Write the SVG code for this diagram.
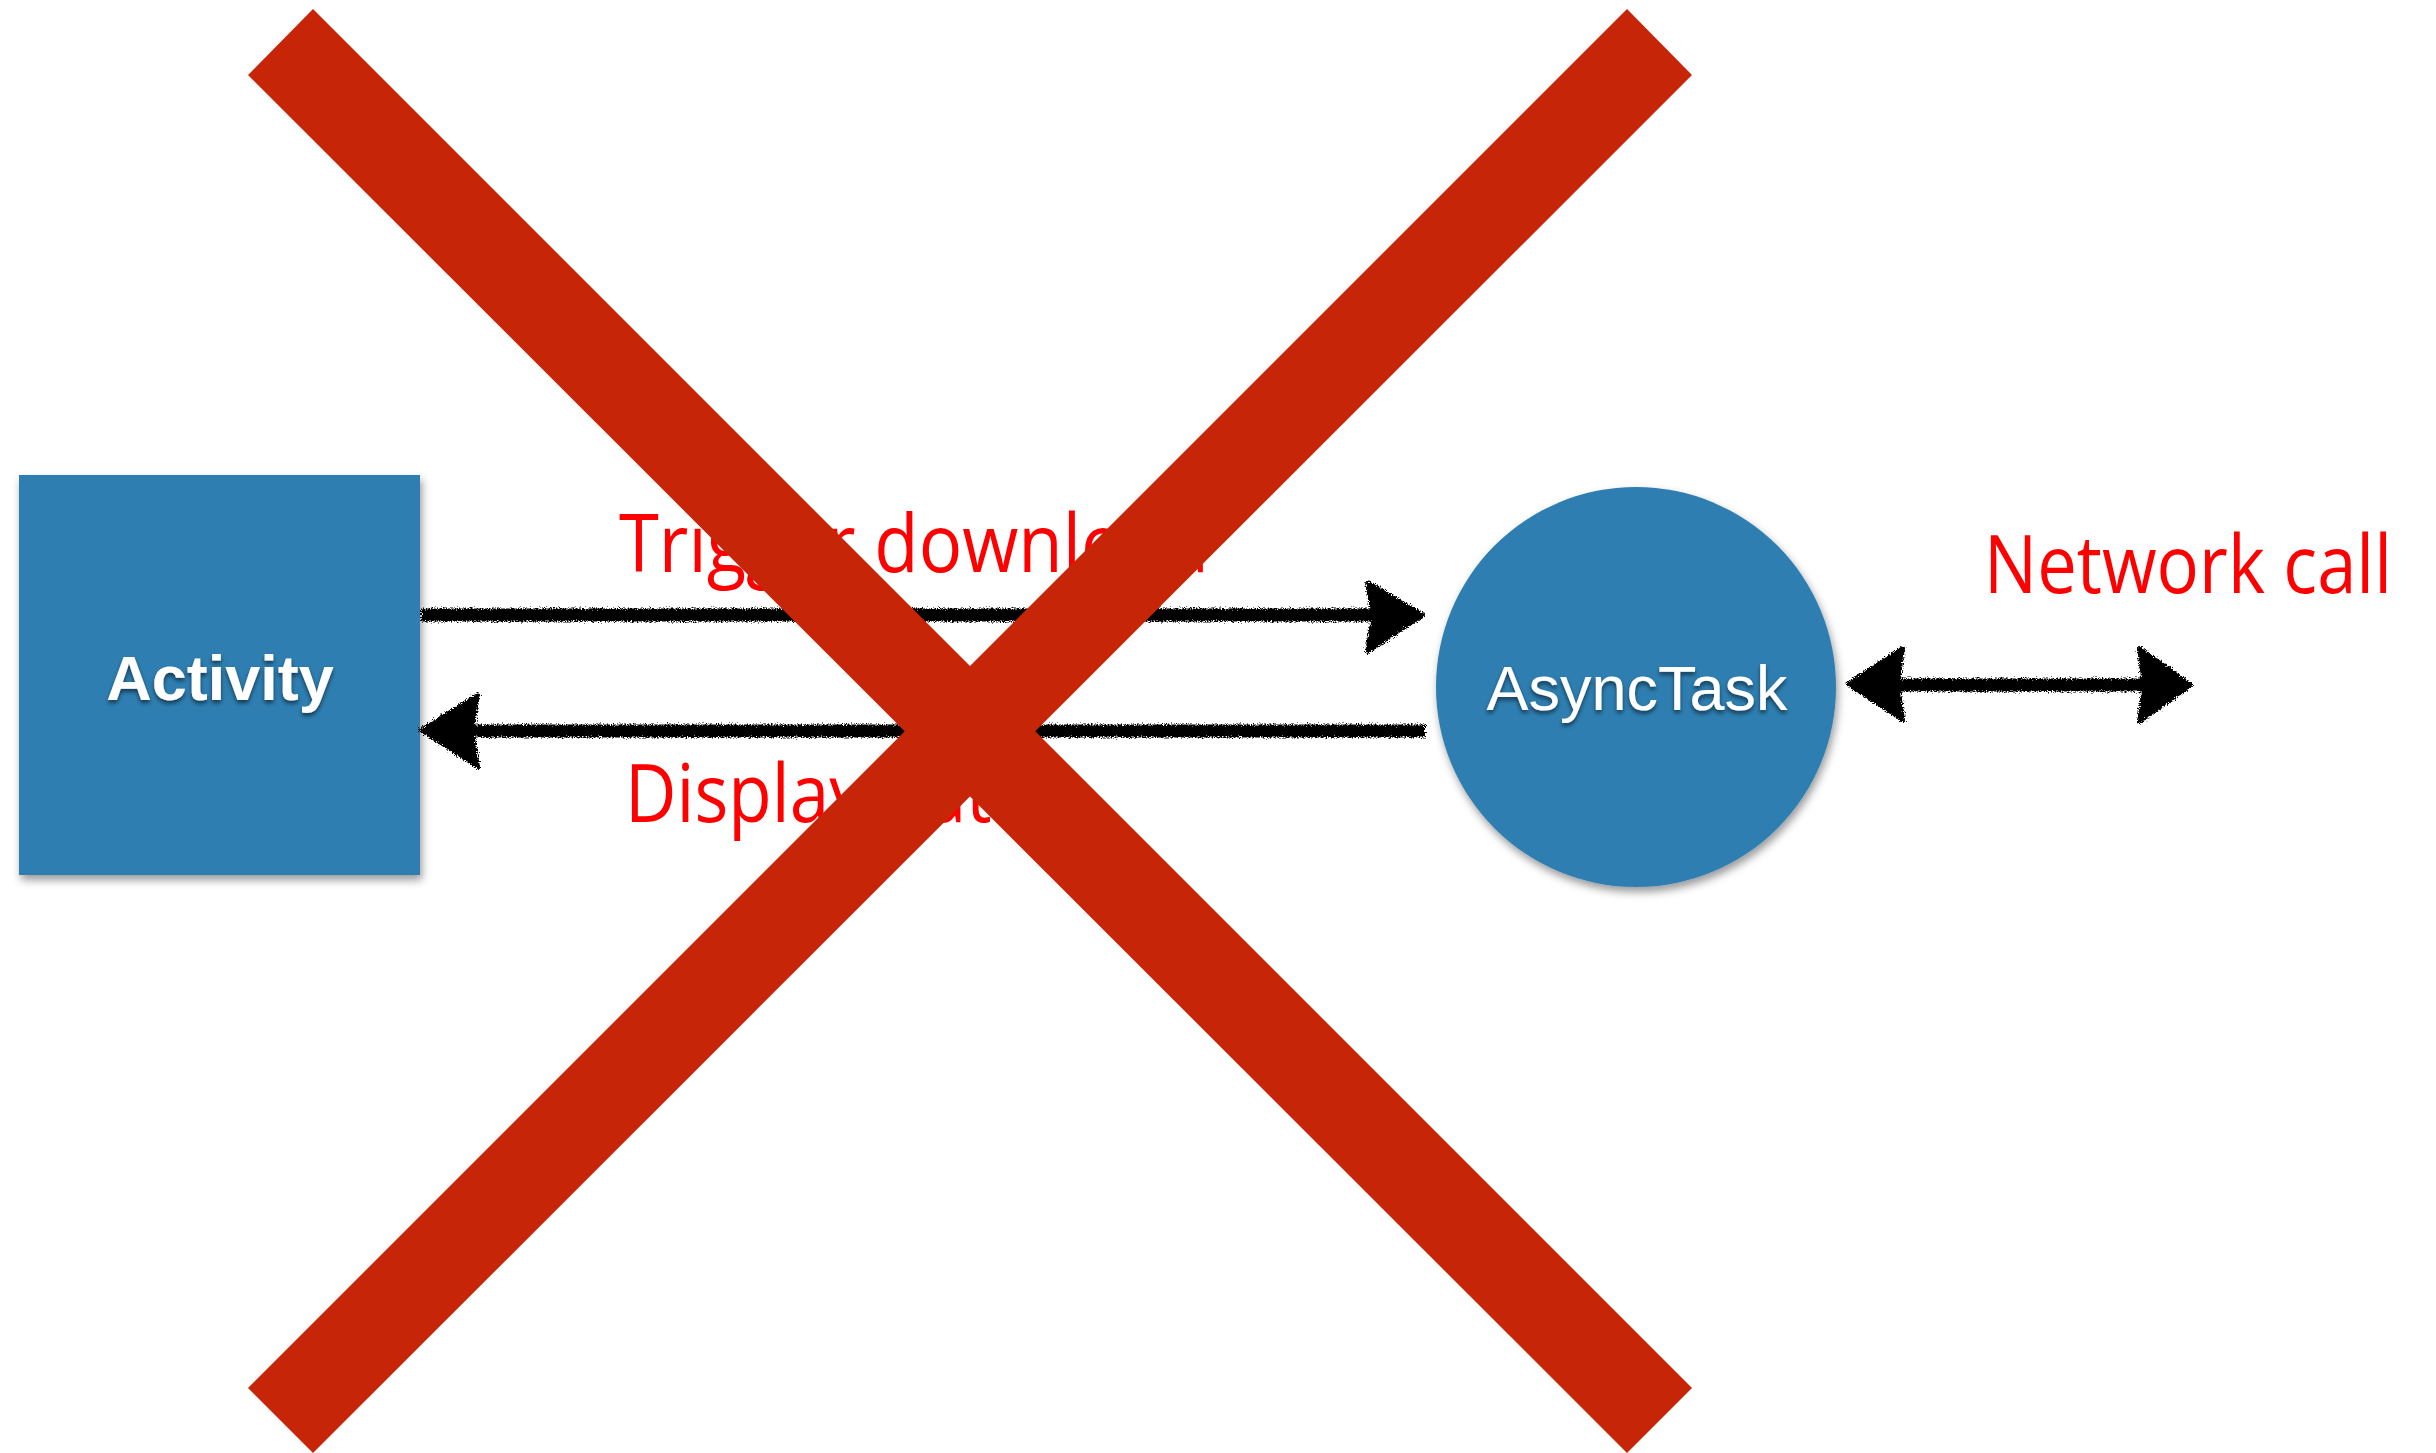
<svg xmlns="http://www.w3.org/2000/svg" width="2436" height="1453" viewBox="0 0 2436 1453">
  <style>
    .node { fill: #2F7EB1; }
    .nodelabel { fill: #FFFFFF; font-family: "Liberation Sans", Arial, sans-serif; text-anchor: middle; }
    .edgelabel { fill: #FF0000; font-family: "Open Sans", "Noto Sans", sans-serif; font-size: 80px; }
    .chalk { stroke: #000; fill: none; stroke-width: 13; stroke-linecap: butt; }
    .head { fill: #000; stroke: #000; stroke-width: 4; stroke-linejoin: round; }
    .cross { fill: #C72507; }
  </style>
  <defs>
    <filter id="shadow" x="-10%" y="-10%" width="125%" height="125%">
      <feDropShadow dx="2" dy="5" stdDeviation="4" flood-color="#000" flood-opacity="0.4"/>
    </filter>
    <filter id="textshadow" x="-10%" y="-20%" width="120%" height="150%">
      <feDropShadow dx="0" dy="3" stdDeviation="2" flood-color="#000" flood-opacity="0.55"/>
    </filter>
    <filter id="rough" x="-5%" y="-50%" width="110%" height="200%">
      <feTurbulence type="fractalNoise" baseFrequency="0.8" numOctaves="2" seed="3" result="n"/>
      <feDisplacementMap in="SourceGraphic" in2="n" scale="7" xChannelSelector="R" yChannelSelector="G"/>
    </filter>
  </defs>

  <rect width="2436" height="1453" fill="#FFFFFF"/>

  <g id="activity">
    <rect class="node" x="19" y="475" width="401" height="400" filter="url(#shadow)"/>
    <text class="nodelabel" x="220" y="700" font-size="63" font-weight="bold" filter="url(#textshadow)">Activity</text>
  </g>

  <g id="asynctask">
    <circle class="node" cx="1636" cy="687" r="200" filter="url(#shadow)"/>
    <text class="nodelabel" x="1637" y="710" font-size="63" filter="url(#textshadow)">AsyncTask</text>
  </g>

  <g id="connectors" filter="url(#rough)">
    <!-- Trigger download: Activity -> AsyncTask -->
    <line class="chalk" x1="421" y1="615" x2="1372" y2="615"/>
    <polygon class="head" points="1367,582 1423,615 1367,652 1373,617"/>
    <!-- Display data: AsyncTask -> Activity -->
    <line class="chalk" x1="1425" y1="731" x2="472" y2="731"/>
    <polygon class="head" points="478,695 421,730 478,767 472,731"/>
    <!-- Network call: bidirectional -->
    <line class="chalk" x1="1898" y1="685" x2="2144" y2="685"/>
    <polygon class="head" points="1903,648 1848,684 1903,720 1898,685"/>
    <polygon class="head" points="2139,648 2191,685 2139,722 2144,685"/>
  </g>

  <g id="labels">
    <text class="edgelabel" x="619" y="572" textLength="590" lengthAdjust="spacingAndGlyphs">Trigger download</text>
    <text class="edgelabel" x="625" y="822" textLength="406" lengthAdjust="spacingAndGlyphs">Display data</text>
    <text class="edgelabel" x="1984" y="593" textLength="408" lengthAdjust="spacingAndGlyphs">Network call</text>
  </g>

  <g id="cross">
    <polygon class="cross" points="313,9 1692,1388 1627,1453 248,75"/>
    <polygon class="cross" points="1627,9 1692,75 313,1453 248,1388"/>
  </g>
</svg>
